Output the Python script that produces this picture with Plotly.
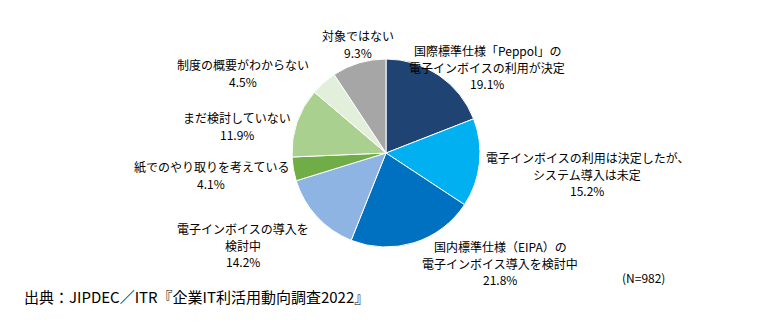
import plotly.graph_objects as go

categories = [
    "国際標準仕様「Peppol」の<br>電子インボイスの利用が決定",
    "電子インボイスの利用は決定したが、<br>システム導入は未定",
    "国内標準仕様（EIPA）の<br>電子インボイス導入を検討中",
    "電子インボイスの導入を<br>検討中",
    "紙でのやり取りを考えている",
    "まだ検討していない",
    "制度の概要がわからない",
    "対象ではない",
]
values = [19.1, 15.2, 21.8, 14.2, 4.1, 11.9, 4.5, 9.3]
colors = ["#1F4373", "#00B0F0", "#0070C0", "#8DB4E2", "#70AD47", "#A9D08E", "#E2EFDA", "#A6A6A6"]

# label block centres in pixels (x, y)
label_pos = [
    (487, 67), (587, 174), (500, 263), (243, 245),
    (211, 175), (237, 126), (243, 73), (358, 44),
]

W, H = 772, 322
cx, cy, r = 386, 153, 94
LINE = 16.8

fig = go.Figure(go.Pie(
    labels=categories,
    values=values,
    sort=False,
    direction="clockwise",
    rotation=0,
    marker=dict(colors=colors, line=dict(color="white", width=1)),
    textinfo="none",
    hoverinfo="label+value",
    showlegend=False,
    domain=dict(x=[(cx - r) / W, (cx + r) / W], y=[1 - (cy + r) / H, 1 - (cy - r) / H]),
))

font = dict(family="Noto Sans CJK JP", size=12, color="#000000")
for cat, v, (px, py) in zip(categories, values, label_pos):
    lines = cat.split("<br>") + [f"{v:.1f}%"]
    n = len(lines)
    for i, line in enumerate(lines):
        ly = py + (i - (n - 1) / 2) * LINE
        fig.add_annotation(
            x=px / W, y=1 - ly / H, xref="paper", yref="paper",
            text=line, showarrow=False, font=font,
            xanchor="center", yanchor="middle",
        )

fig.add_annotation(x=643 / W, y=1 - 277 / H, xref="paper", yref="paper",
                   text="(N=982)", showarrow=False, font=font,
                   xanchor="center", yanchor="middle")
fig.add_annotation(x=22 / W, y=1 - 296 / H, xref="paper", yref="paper",
                   text="出典：JIPDEC／ITR『企業IT利活用動向調査2022』", showarrow=False,
                   font=dict(family="Noto Sans CJK JP", size=15, color="#000000"),
                   xanchor="left", yanchor="middle")

fig.update_layout(
    width=W, height=H,
    margin=dict(l=0, r=0, t=0, b=0),
    paper_bgcolor="white", plot_bgcolor="white",
)
fig.write_html("out.html")
